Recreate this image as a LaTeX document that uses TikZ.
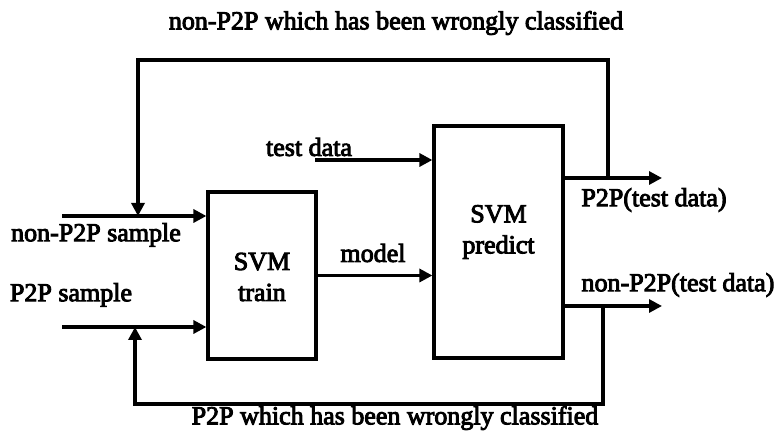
\documentclass[tikz,border=0pt]{standalone}
\usepackage{fontspec}
\setmainfont{Liberation Serif}[FakeBold=3.5]
\usetikzlibrary{arrows.meta}
\begin{document}
\begin{tikzpicture}[x=1pt,y=-1pt,
  every node/.style={font=\fontsize{26}{31}\selectfont, inner sep=0pt},
  blk/.style={draw, line width=3.2pt, rectangle},
  flow/.style={line width=3.2pt, -{Triangle[length=13pt,width=13pt]}},
  txt/.style={align=center}]
\useasboundingbox (0,0) rectangle (780,435);

% processing blocks
\node[blk, minimum width=108pt, minimum height=167pt] (train) at (262,275.5) {};
\node[blk, minimum width=129pt, minimum height=232pt] (predict) at (498.5,242) {};
\node[txt] (trainLbl) at (262,277) {SVM\\train};
\node[txt] (predictLbl) at (498.5,232) {SVM\\predict};

% free ends of the inputs and outputs
\coordinate (nsIn) at (62,216);
\coordinate (psIn) at (62,327);
\coordinate (tdIn) at (315,160);
\coordinate (p2pOut) at (662,178);
\coordinate (npOut) at (662,306);

% feedback taps and corners
\coordinate (tapA) at (608,178);
\coordinate (topL) at (138,60);
\coordinate (tapB) at (603,306);
\coordinate (botL) at (135,404);

% inputs
\draw[flow] (nsIn) -- (nsIn -| train.west);
\draw[flow] (psIn) -- (psIn -| train.west);
\draw[flow] (tdIn) -- (tdIn -| predict.west);
\draw[flow] (train.east) -- (train.east -| predict.west);

% outputs
\draw[flow] (p2pOut -| predict.east) -- (p2pOut);
\draw[flow] (npOut -| predict.east) -- (npOut);

% feedback of misclassified samples
\draw[flow] (tapA) |- (topL) -- (topL |- nsIn);
\draw[flow] (tapB) |- (botL) -- (botL |- psIn);

% labels
\node (topLbl) at (396,23) {non-P2P which has been wrongly classified};
\node (botLbl) at (395,418) {P2P which has been wrongly classified};
\node (nsLbl) at (96,235) {non-P2P sample};
\node (psLbl) at (71,295) {P2P sample};
\node (tdLbl) at (309,147) {test data};
\node (mdLbl) at (373,253) {model};
\node (p2pLbl) at (654,200) {P2P(test data)};
\node (npLbl) at (678,285) {non-P2P(test data)};
\end{tikzpicture}
\end{document}
